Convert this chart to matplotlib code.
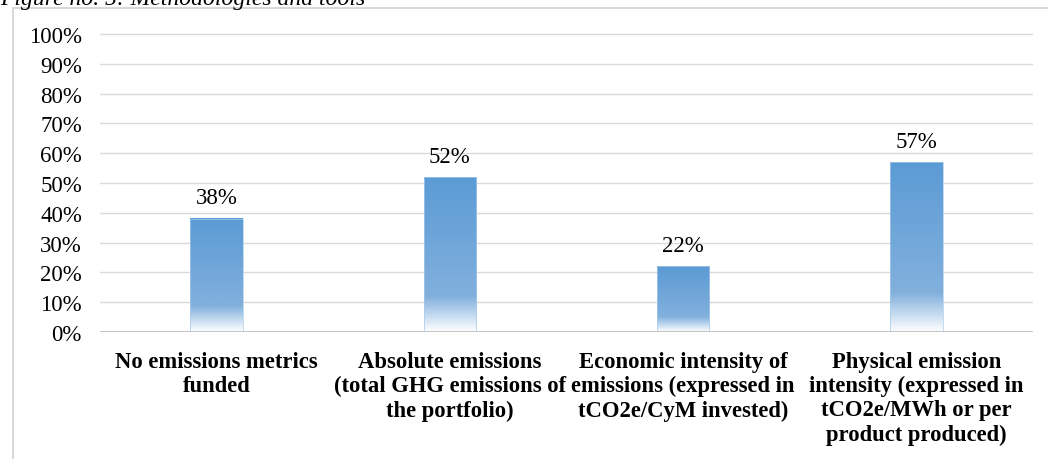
import matplotlib
matplotlib.use("Agg")
import matplotlib.pyplot as plt
import numpy as np
from matplotlib.colors import LinearSegmentedColormap
from matplotlib.patches import Rectangle

categories = [
    "No emissions metrics\nfunded",
    "Absolute emissions\n(total GHG emissions of\nthe portfolio)",
    "Economic intensity of\nemissions (expressed in\ntCO2e/CyM invested)",
    "Physical emission\nintensity (expressed in\ntCO2e/MWh or per\nproduct produced)",
]
values = [0.38, 0.52, 0.22, 0.57]
value_labels = ["38%", "52%", "22%", "57%"]
yticks = [0.0, 0.1, 0.2, 0.3, 0.4, 0.5, 0.6, 0.7, 0.8, 0.9, 1.0]
ytick_labels = ["0%", "10%", "20%", "30%", "40%", "50%", "60%", "70%", "80%", "90%", "100%"]
title = "Figure no. 5: Methodologies and tools"

plt.rcParams['font.family'] = ['Liberation Serif', 'DejaVu Serif']

W, H = 1048, 460
fig = plt.figure(figsize=(W / 100, H / 100), dpi=100)

ymax = 1.02
ax_left = 100 / W
ax_right = 1033 / W
ax_bottom = (H - 333) / H
ax_height = (298 * ymax) / H
ax = fig.add_axes([ax_left, ax_bottom, ax_right - ax_left, ax_height])

# gridlines
for t in yticks[1:]:
    ax.axhline(t, color="#D9D9D9", lw=1.0, zorder=0)
ax.axhline(0, color="#BFBFBF", lw=2.0, zorder=3)

cmap = LinearSegmentedColormap.from_list(
    "bar",
    [(0.0, "#FFFFFF"), (0.10, "#C8DDF1"), (0.23, "#82B0DD"), (1.0, "#5B9BD5")],
)
grad = np.linspace(0, 1, 256).reshape(-1, 1)
bw = 0.225
bars = ax.bar(range(len(values)), values, width=bw, color="none",
              edgecolor="none", zorder=2)
for b, v, lab in zip(bars, values, value_labels):
    x0 = b.get_x()
    ax.imshow(grad, cmap=cmap, origin="lower", aspect="auto",
              extent=[x0, x0 + bw, 0, v], zorder=2, interpolation="bicubic")
    ax.add_patch(Rectangle((x0, 0), bw, v, fill=False, edgecolor="#A9CBEB",
                           lw=0.5, zorder=2.5))
    ax.annotate(lab, (b.get_x() + bw / 2, v), xytext=(0, 7.5),
                textcoords="offset points", ha="center", va="bottom",
                fontsize=16.5, color="#000000")
ax.set_xlim(-0.5, len(categories) - 0.5)
ax.set_ylim(0, ymax)

ax.set_yticks(yticks)
ax.set_yticklabels(ytick_labels, fontsize=16.5)
ax.set_xticks(range(len(categories)))
ax.set_xticklabels(categories, fontsize=16.3, fontweight="bold",
                   linespacing=1.2, va="top")
ax.tick_params(axis="y", length=0, pad=13)
ax.tick_params(axis="x", length=0, pad=13.5)
for s in ax.spines.values():
    s.set_visible(False)

# figure title (partially cut off at top)
fig.text(0.0 / W, 1 - 4.5 / H, title, fontsize=17, fontstyle="italic",
         ha="left", va="baseline")

# chart area border
fig.patches.append(Rectangle((12.5 / W, -0.1), 1.2, 1 - 8.5 / H + 0.1,
                             transform=fig.transFigure, fill=False,
                             edgecolor="#D9D9D9", lw=1.5))

fig.savefig("out.png", dpi=100)
